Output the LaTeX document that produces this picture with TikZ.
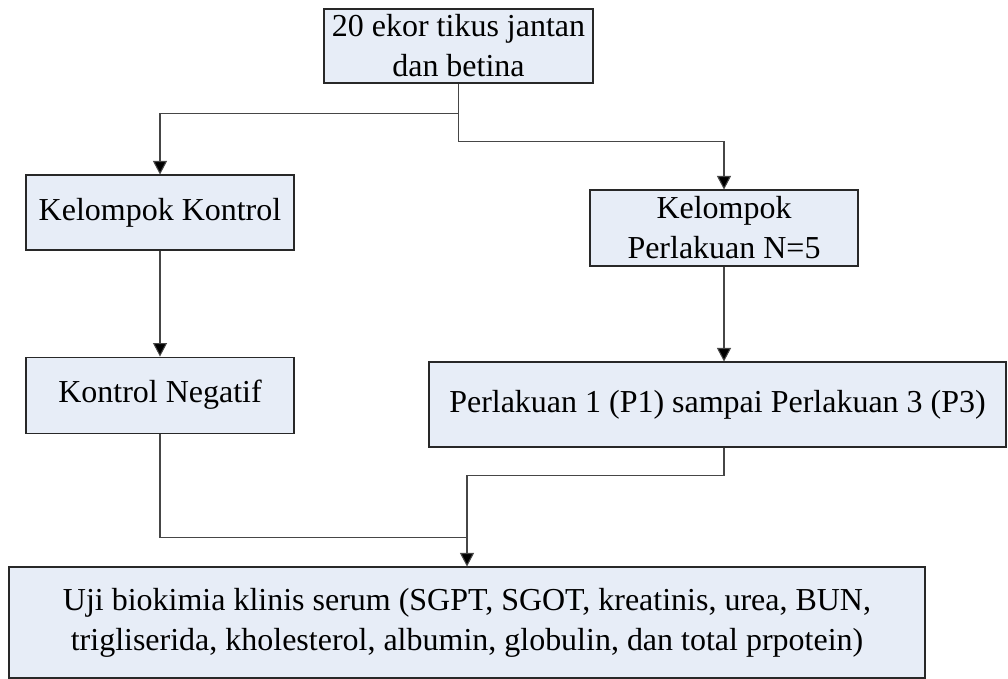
\documentclass[tikz,border=0pt]{standalone}
\usepackage{fontspec}
\setmainfont{Liberation Serif}
\usepackage{xcolor}
\usepackage{tikz}
\usetikzlibrary{calc,positioning,arrows.meta}

\definecolor{boxfill}{RGB}{231,237,247}
\definecolor{boxline}{RGB}{40,40,40}
\definecolor{flowline}{RGB}{70,70,70}

\begin{document}
\begin{tikzpicture}[align=center,
        font=\fontsize{18.2pt}{22.7pt}\selectfont,
        box/.style={draw=boxline, fill=boxfill, line width=0.6pt, inner sep=0pt},
        flow/.style={draw=flowline, line width=0.6pt},
        tip/.style={-{Triangle[length=0.27cm, width=0.28cm, fill=black]}}]
        \useasboundingbox (0,0) rectangle (20.16,-13.58);

        \node [box, minimum width=5.38cm, minimum height=1.48cm] (rats) at (9.17,-0.92) {20 ekor tikus jantan\\dan betina};
        \node [box, minimum width=5.36cm, minimum height=1.5cm] (control) at (3.2,-4.25) {Kelompok Kontrol};
        \node [box, minimum width=5.36cm, minimum height=1.52cm] (treat) at (14.48,-4.56) {Kelompok\\Perlakuan N=5};
        \node [box, below=2.12cm of control, minimum width=5.36cm, minimum height=1.52cm] (negative) {Kontrol Negatif};
        \node [box, minimum width=11.54cm, minimum height=1.7cm] (doses) at (14.35,-8.09) {Perlakuan 1 (P1) sampai Perlakuan 3 (P3)};
        \node [box, minimum width=18.32cm, minimum height=2.22cm] (assay) at (9.34,-12.45) {Uji biokimia klinis serum (SGPT, SGOT, kreatinis, urea, BUN,\\trigliserida, kholesterol, albumin, globulin, dan total prpotein)};

        \coordinate (forkL) at ($(rats.south)+(0,-0.6)$);
        \coordinate (forkR) at ($(rats.south)+(0,-1.16)$);
        \coordinate (outP) at (treat.south |- doses.south);
        \coordinate (merge) at ($(assay.north)+(0,0.58)$);

        \draw[flow] (rats.south) -- (forkR);
        \draw[flow, tip] (forkL) -| (control.north);
        \draw[flow, tip] (forkR) -| (treat.north);
        \draw[flow, tip] (control) -- (negative);
        \draw[flow, tip] (treat.south) -- (treat.south |- doses.north);
        \draw[flow] (negative.south) |- (merge);
        \draw[flow, tip] (outP) -- ++(0,-0.56) -| (assay.north);

    \end{tikzpicture}
\end{document}
